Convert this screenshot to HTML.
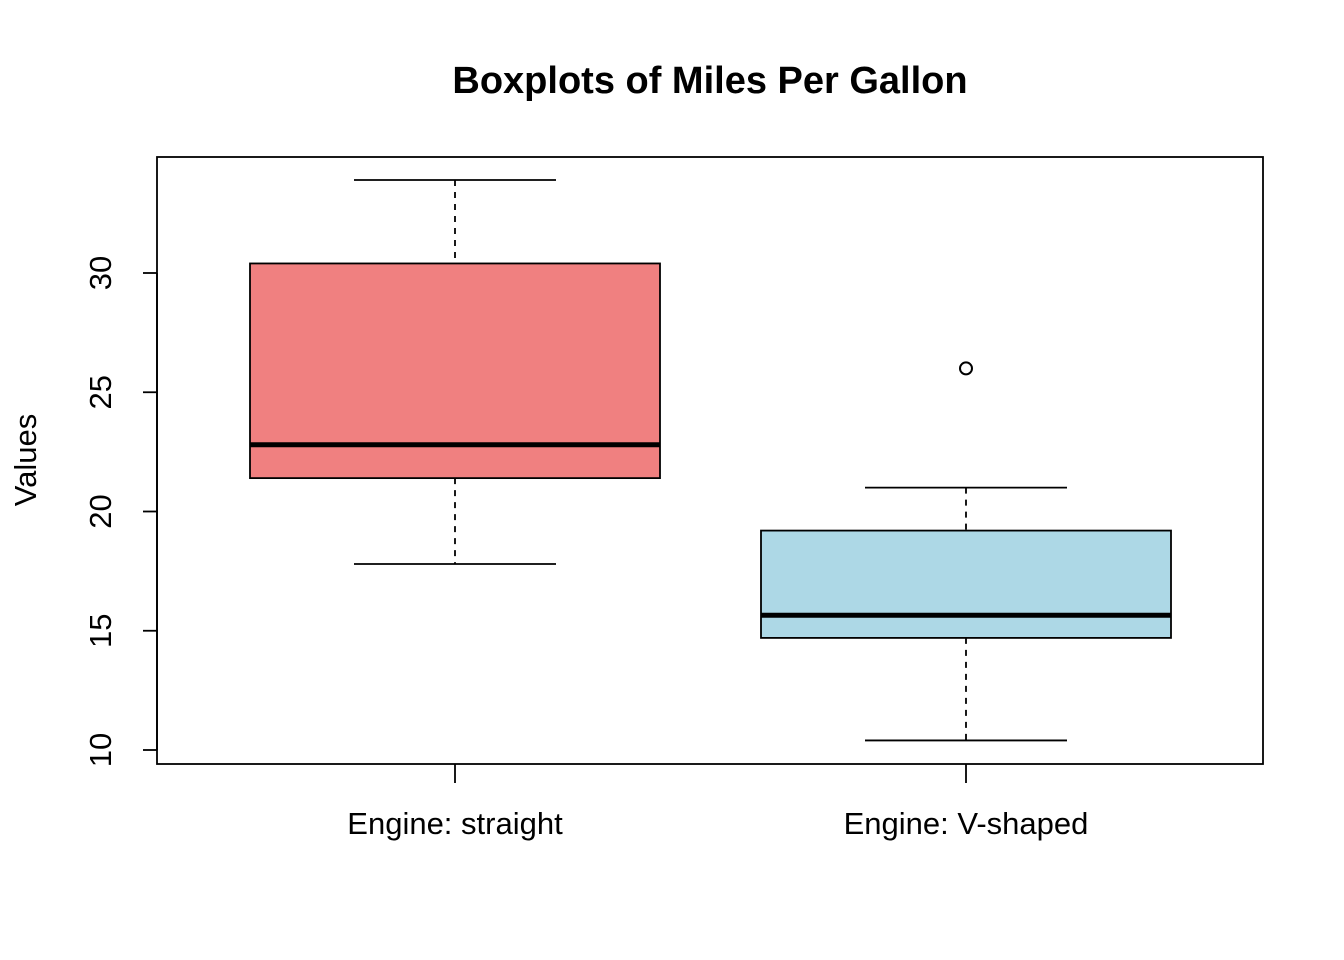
<!DOCTYPE html>
<html><head><meta charset="utf-8"><style>
body{margin:0;background:#fff}
svg{display:block;font-family:"Liberation Sans",Arial,sans-serif}
</style></head><body>
<svg id="c" width="1344" height="960" xmlns="http://www.w3.org/2000/svg">
<rect width="1344" height="960" fill="#fff"/>
<text x="710" y="93" text-anchor="middle" font-size="38" font-weight="bold">Boxplots of Miles Per Gallon</text>
<rect x="157" y="157" width="1106" height="607" fill="none" stroke="#000" stroke-width="1.8"/>
<text transform="translate(36,460) rotate(-90)" text-anchor="middle" font-size="31">Values</text>
<g id="g"></g>
</svg>
<script>
const categories = ["Engine: straight", "Engine: V-shaped"];
const mins = [17.8, 10.4];
const q1s = [21.4, 14.7];
const medians = [22.8, 15.65];
const q3s = [30.4, 19.2];
const maxs = [33.9, 21.0];
const outliers = [[], [26.0]];
const colors = ["#f08080", "#add8e6"];
const yTicks = [10, 15, 20, 25, 30];

const NS = "http://www.w3.org/2000/svg";
const g = document.getElementById("g");
function y(v){ return 750 - (v - 10) * 23.85; }
function x(i){ return 455 + i * 511; }
function mk(tag, attrs, parent){
  const e = document.createElementNS(NS, tag);
  for (const k in attrs) e.setAttribute(k, attrs[k]);
  (parent || g).appendChild(e);
  return e;
}
let ax = mk("line", {x1:157, x2:157, y1:y(yTicks[0]), y2:y(yTicks[yTicks.length-1]), stroke:"#000", "stroke-width":1.8});


yTicks.forEach(t => {
  const l = mk("line", {x1:143, x2:157, y1:y(t), y2:y(t), stroke:"#000", "stroke-width":1.8});
  
  
  const tx = mk("text", {transform:`translate(111,${y(t)}) rotate(-90)`, "text-anchor":"middle", "font-size":31});
  tx.textContent = t;
  
  
});
categories.forEach((c, i) => {
  const cx = x(i), hw = 205, cw = 101;
  const tk = mk("line", {x1:cx, x2:cx, y1:764, y2:783, stroke:"#000", "stroke-width":1.8});
  
  
  const lb = mk("text", {x:cx, y:834, "text-anchor":"middle", "font-size":31});
  lb.textContent = c;
  
  
  const w1 = mk("line", {x1:cx, x2:cx, y1:y(maxs[i]), y2:y(q3s[i]), stroke:"#000", "stroke-width":1.8, "stroke-dasharray":"6,6"});
  
  
  const w2 = mk("line", {x1:cx, x2:cx, y1:y(q1s[i]), y2:y(mins[i]), stroke:"#000", "stroke-width":1.8, "stroke-dasharray":"6,6"});
  
  
  [maxs[i], mins[i]].forEach(v => {
    const cap = mk("line", {x1:cx-cw, x2:cx+cw, y1:y(v), y2:y(v), stroke:"#000", "stroke-width":1.8});
    
    
  });
  const b = mk("rect", {x:cx-hw, y:y(q3s[i]), width:2*hw, height:y(q1s[i])-y(q3s[i]), fill:colors[i], stroke:"#000", "stroke-width":1.8});
  
  
  const m = mk("line", {x1:cx-hw, x2:cx+hw, y1:y(medians[i]), y2:y(medians[i]), stroke:"#000", "stroke-width":5});
  
  
  outliers[i].forEach(v => {
    const o = mk("circle", {cx:cx, cy:y(v), r:6, fill:"none", stroke:"#000", "stroke-width":2});
    
    
  });
});
</script>
</body></html>
